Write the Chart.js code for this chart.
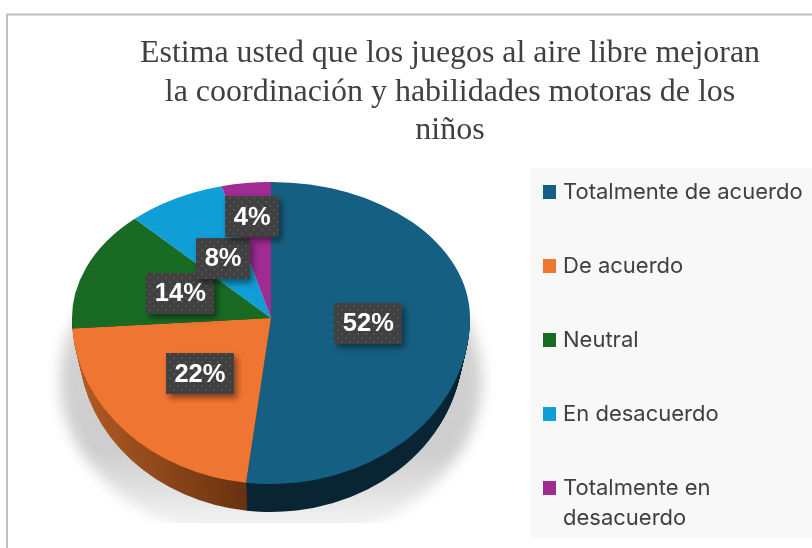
<!DOCTYPE html>
<html><head><meta charset="utf-8">
<style>html,body{margin:0;padding:0;background:#fff}canvas{display:block}</style>
<script src="https://cdn.jsdelivr.net/npm/chart.js@4/dist/chart.umd.min.js"></script>
</head><body>
<div style="width:812px;height:548px"><canvas id="c" width="812" height="548"></canvas></div>
<script>
const titleLines = ['Estima usted que los juegos al aire libre mejoran','la coordinación y habilidades motoras de los','niños'];
const categories = ['Totalmente de acuerdo','De acuerdo','Neutral','En desacuerdo',['Totalmente en','desacuerdo']];
const values = [52,22,14,8,4];
const sliceColors = ['#156082','#ef7533','#196b24','#0f9ed5','#a02b93'];
const sideColors = ['#0a2533','#7a3a14','#0c3512','#084f6b','#501549'];

const upperRatio = 136/199, lowerRatio = 166/199, depth = 28;
const labelRadius = [.49,.49,.49,.5,.75];

function squash(ctx, arc, sx, sy, dy) {
  ctx.translate(arc.x, arc.y + dy); ctx.scale(sx, sy); ctx.translate(-arc.x, -arc.y);
}
const pie3d = {
  id: 'pie3d',
  afterLayout(chart) {
    chart.chartArea = {left:72,right:470,top:119,bottom:517,width:398,height:398};
    const t = chart.titleBlock;
    t.left = 140; t.right = 760; t.top = 35; t.bottom = 150;
    const l = chart.legend, p = l.options.labels.padding;
    l.left = 547 - p; l.right = 812; l.top = 181 - p; l.bottom = 800;
  },
  beforeDraw(chart) {
    const ctx = chart.ctx;
    ctx.save();
    ctx.strokeStyle = '#bfbfbf'; ctx.lineWidth = 2;
    ctx.beginPath(); ctx.moveTo(7,548); ctx.lineTo(7,14.5); ctx.lineTo(812,14.5); ctx.stroke();
    ctx.fillStyle = '#f8f8f8'; ctx.fillRect(531,168,281,370);
    ctx.restore();
  },
  beforeDatasetDraw(chart, args) {
    const ctx = chart.ctx, arcs = args.meta.data, a0 = arcs[0], W = chart.width, H = chart.height;
    const r = a0.outerRadius;
    // soft shadow under the disc
    ctx.save();
    ctx.beginPath(); ctx.rect(0,0,W,523); ctx.clip();
    ctx.filter = 'blur(7px)';
    const sg = ctx.createLinearGradient(0, a0.y + 20, 0, a0.y + 205);
    sg.addColorStop(0, '#d2d2d2'); sg.addColorStop(.6, '#cdcdcd'); sg.addColorStop(1, '#f2f2f2');
    ctx.fillStyle = sg;
    ctx.beginPath(); ctx.ellipse(a0.x, a0.y + 62, r + 12, r*lowerRatio - 2, 0, 0, Math.PI*2); ctx.fill();
    ctx.restore();
    // side wall
    const grad = ctx.createLinearGradient(a0.x - r, 0, a0.x - 26, 0);
    grad.addColorStop(0, '#b35c24'); grad.addColorStop(1, '#693210');
    for (let d = depth; d >= 0; d--) {
      ctx.save();
      ctx.beginPath(); ctx.rect(0, a0.y, W, H); ctx.clip();
      squash(ctx, a0, 1 - .035*d/depth, lowerRatio, d);
      arcs.forEach((arc,i) => {
        const view = Object.create(arc);
        const o = Object.create(arc.options);
        o.backgroundColor = i === 1 ? grad : sideColors[i];
        view.options = o;
        view.draw(ctx);
      });
      ctx.restore();
    }
    // top face: the apex sits above the ellipse centre, so each half has its own ratio
    ctx.save();
    ctx.beginPath(); ctx.rect(0, 0, W, a0.y + .5); ctx.clip();
    squash(ctx, a0, 1, upperRatio, 0);
    arcs.forEach(a => a.draw(ctx));
    ctx.restore();
    ctx.save();
    ctx.beginPath(); ctx.rect(0, a0.y, W, H); ctx.clip();
    squash(ctx, a0, 1, lowerRatio, 0);
    arcs.forEach(a => a.draw(ctx));
    ctx.restore();
    return false;
  },
  afterDatasetsDraw(chart) {
    const ctx = chart.ctx, arcs = chart.getDatasetMeta(0).data;
    const pc = document.createElement('canvas'); pc.width = pc.height = 8;
    const px = pc.getContext('2d');
    px.fillStyle = '#404040'; px.fillRect(0,0,8,8);
    px.fillStyle = '#525252'; px.fillRect(1,1,2,2); px.fillRect(5,5,2,2);
    const pat = ctx.createPattern(pc,'repeat');
    arcs.forEach((arc,i) => {
      const mid = (arc.startAngle + arc.endAngle)/2;
      const f = labelRadius[i]*arc.outerRadius;
      const dx = Math.cos(mid)*f, dyRaw = Math.sin(mid)*f;
      const x = arc.x + dx, y = arc.y + dyRaw*(dyRaw < 0 ? upperRatio : lowerRatio);
      const text = values[i] + '%';
      ctx.save();
      ctx.font = 'bold 25.5px "Liberation Sans"';
      const w = Math.round(ctx.measureText(text).width) + 17, h = 41;
      ctx.shadowColor = 'rgba(0,0,0,.45)'; ctx.shadowBlur = 6; ctx.shadowOffsetX = 3; ctx.shadowOffsetY = 4;
      ctx.fillStyle = pat;
      ctx.fillRect(Math.round(x - w/2), Math.round(y - h/2), w, h);
      ctx.shadowColor = 'transparent';
      ctx.fillStyle = '#fff'; ctx.textAlign = 'center'; ctx.textBaseline = 'middle';
      ctx.fillText(text, x, y + 1);
      ctx.restore();
    });
  }
};
new Chart(document.getElementById('c'), {
  type: 'pie',
  data: { labels: categories, datasets: [{ data: values, backgroundColor: sliceColors, borderWidth: 0 }] },
  plugins: [pie3d],
  options: {
    responsive: false, animation: false,
    plugins: {
      tooltip: {enabled:false},
      title: { display:true, text:titleLines, color:'#404040', padding:0,
        font:{family:'"Liberation Serif"', size:32, weight:'normal', lineHeight:1.19} },
      legend: { position:'right', align:'start',
        labels: { color:'#404040', boxWidth:5, boxHeight:6, padding:52,
          font:{family:'Inter', size:22, lineHeight:1.364},
          generateLabels(chart){
            return Chart.overrides.pie.plugins.legend.labels.generateLabels(chart).map(it =>
              Object.assign(it,{lineWidth:8,strokeStyle:it.fillStyle}));
          } } }
    }
  }
});
</script>
</body></html>
